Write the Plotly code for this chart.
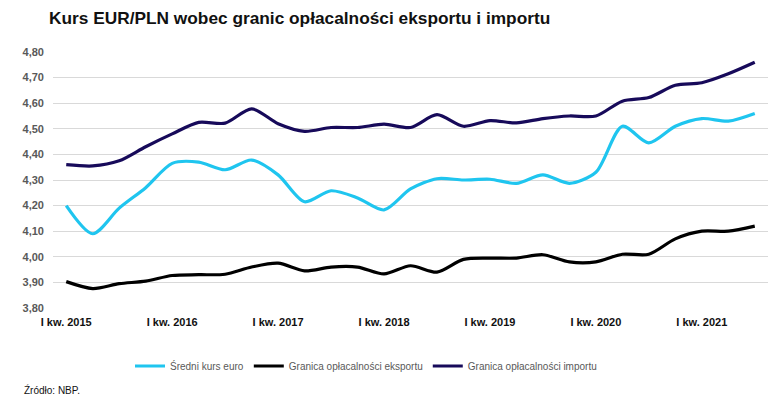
import plotly.graph_objects as go

quarters = [f"{q} kw. {y}" for y in range(2015, 2022) for q in ["I", "II", "III", "IV"]][:27]
tick_labels = ["I kw. 2015", "I kw. 2016", "I kw. 2017", "I kw. 2018", "I kw. 2019", "I kw. 2020", "I kw. 2021"]

sredni_kurs = [4.20, 4.09, 4.19, 4.27, 4.365, 4.37, 4.34, 4.378, 4.32, 4.215, 4.258, 4.23, 4.183,
               4.265, 4.305, 4.30, 4.303, 4.287, 4.32, 4.287, 4.33, 4.51, 4.445, 4.51, 4.54, 4.53, 4.56]
granica_eksportu = [3.903, 3.876, 3.895, 3.905, 3.927, 3.93, 3.932, 3.96, 3.975, 3.945, 3.96, 3.96, 3.933,
                    3.965, 3.94, 3.99, 3.995, 3.995, 4.008, 3.98, 3.98, 4.01, 4.01, 4.07, 4.10, 4.10, 4.12]
granica_importu = [4.36, 4.355, 4.375, 4.43, 4.48, 4.525, 4.522, 4.578, 4.52, 4.49, 4.505, 4.505, 4.518,
                   4.505, 4.555, 4.51, 4.532, 4.523, 4.54, 4.55, 4.55, 4.608, 4.622, 4.67, 4.68, 4.715, 4.76]

x = list(range(len(quarters)))
tick_idx = [quarters.index(t) for t in tick_labels]

series = [
    ("Średni kurs euro", sredni_kurs, "#1FC5EF"),
    ("Granica opłacalności eksportu", granica_eksportu, "#000000"),
    ("Granica opłacalności importu", granica_importu, "#170A5A"),
]

fig = go.Figure()
for name, vals, color in series:
    fig.add_trace(go.Scatter(
        x=x, y=vals, name=name, mode="lines",
        line=dict(color=color, width=3.2, shape="spline", smoothing=0.8),
        hovertext=quarters, hoverinfo="text+y",
    ))

fig.update_layout(
    width=780, height=408,
    margin=dict(l=53, r=12, t=52, b=100),
    paper_bgcolor="white", plot_bgcolor="white",
    font=dict(family="Liberation Sans, Arial, sans-serif", color="#595959"),
    separators=", ",
    title=dict(
        text="<b>Kurs EUR/PLN wobec granic opłacalności eksportu i importu</b>",
        x=49 / 780, xanchor="left", y=1 - 18 / 408, yanchor="middle",
        font=dict(size=17.3, color="#111111"),
    ),
    showlegend=True,
    legend=dict(
        orientation="h", x=(366 - 53) / 715, xanchor="center", y=-0.2266, yanchor="middle",
        font=dict(size=10, color="#595959"), itemwidth=30,
    ),
    xaxis=dict(
        range=[-0.5, len(quarters) - 0.5],
        tickmode="array", tickvals=tick_idx,
        ticktext=[f"<b>{t}</b>" for t in tick_labels],
        tickfont=dict(size=11, color="#111111"),
        showgrid=False, zeroline=False, showline=False, ticks="",
        ticklabelstandoff=6,
    ),
    yaxis=dict(
        range=[3.80, 4.80], dtick=0.1, tick0=3.8,
        tickformat=".2f",
        tickfont=dict(size=11, color="#595959"),
        showgrid=True, gridcolor="#D9D9D9", gridwidth=1,
        zeroline=False, showline=False, ticks="", ticklabelstandoff=8,
    ),
)
fig.update_yaxes(tickprefix="<b>", ticksuffix="</b>")

fig.add_annotation(
    text="Źródło: NBP.", xref="paper", yref="paper",
    x=-31 / 715, xanchor="left", y=(308 - 390) / 256, yanchor="middle",
    showarrow=False, font=dict(size=10, color="#111111"),
)

fig.write_html(
    "out.html",
    config={"displayModeBar": False},
    post_script="document.body.style.margin='0';document.body.style.padding='0';",
)
